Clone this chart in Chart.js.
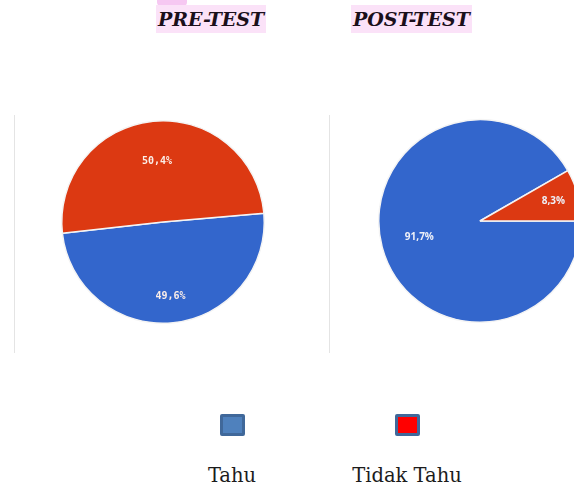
<!DOCTYPE html>
<html>
<head>
<meta charset="utf-8">
<script src="https://cdn.jsdelivr.net/npm/chart.js@4.4.0/dist/chart.umd.min.js"></script>
<style>
  html, body { margin: 0; padding: 0; width: 574px; height: 492px; overflow: hidden; background: #fff; }
  .title { position: absolute; top: 5px; height: 28px; line-height: 28px; background: #fbe2f8;
           font-family: "DejaVu Serif", "Liberation Serif", serif; font-weight: bold; font-style: italic;
           font-size: 19px; color: #1a0f1a; padding: 0 2px; }
  .vline { position: absolute; top: 115px; width: 1px; height: 238px; background: #e4e4e4; }
  .box { position: absolute; top: 414px; width: 19px; height: 16px; border: 3px solid #40689a; border-radius: 2px; }
  .lbl { position: absolute; top: 464px; font-family: "DejaVu Serif", "Liberation Serif", serif;
         font-size: 19.5px; color: #1c1c1c; transform: translateX(-50%); white-space: nowrap; }
  canvas { position: absolute; }
</style>
</head>
<body>
<div style="position:absolute;left:157px;top:0;width:30px;height:6px;background:#f6c8f2;border-radius:0 0 4px 4px;"></div>
<div class="title" id="t0" style="left:156px;"></div>
<div class="title" id="t1" style="left:351px;"></div>
<div class="vline" style="left:14px;"></div>
<div class="vline" style="left:329px;"></div>
<canvas id="pre" width="210" height="210" style="left:58px;top:117px;width:210px;height:210px;"></canvas>
<canvas id="post" width="210" height="210" style="left:375px;top:116px;width:210px;height:210px;"></canvas>
<div id="legend"></div>
<script>
const titles = ["PRE-TEST", "POST-TEST"];
const categories = ["Tahu", "Tidak Tahu"];
const preTest = [49.6, 50.4];
const postTest = [91.7, 8.3];
const sliceColors = ["#3366cc", "#dc3912"];
const legendFill = ["#4f81bd", "#ff0000"];

document.getElementById("t0").innerText = titles[0];
document.getElementById("t1").innerText = titles[1];

// percentage text inside each slice
const sliceLabels = {
  id: 'sliceLabels',
  afterDatasetsDraw(chart, args, opts) {
    const ctx = chart.ctx;
    const meta = chart.getDatasetMeta(0);
    const data = chart.data.datasets[0].data;
    ctx.save();
    ctx.font = opts.font;
    ctx.fillStyle = opts.color;
    ctx.textAlign = 'center';
    ctx.textBaseline = 'middle';
    meta.data.forEach(function(arc, i) {
      const mid = (arc.startAngle + arc.endAngle) / 2;
      const r = arc.outerRadius * opts.pos[i];
      const text = data[i].toFixed(1).replace('.', ',') + '%';
      ctx.fillText(text, arc.x + Math.cos(mid) * r, arc.y + Math.sin(mid) * r);
    });
    ctx.restore();
  }
};

function makePie(id, values, rotation, labelOpts) {
  return new Chart(document.getElementById(id), {
    type: 'pie',
    data: {
      labels: categories,
      datasets: [{
        data: values,
        backgroundColor: sliceColors,
        borderColor: '#f4f4f4',
        borderWidth: 1.5
      }]
    },
    options: {
      responsive: false,
      animation: false,
      rotation: rotation,
      layout: { padding: 3 },
      plugins: {
        legend: { display: false },
        tooltip: { enabled: false },
        sliceLabels: labelOpts
      }
    },
    plugins: [sliceLabels]
  });
}

makePie('pre', preTest, 85, { font: 'bold 10px "DejaVu Sans Mono"', color: '#fbeee8', pos: [0.74, 0.6] });
makePie('post', postTest, 90, { font: 'bold 10px "Open Sans"', color: '#eef0f8', pos: [0.62, 0.75] });

// legend: box above label
const legendX = [232, 407];
const legend = document.getElementById('legend');
categories.forEach(function(name, i) {
  const box = document.createElement('div');
  box.className = 'box';
  box.style.left = (legendX[i] - 12) + 'px';
  box.style.background = legendFill[i];
  legend.appendChild(box);
  const lbl = document.createElement('div');
  lbl.className = 'lbl';
  lbl.style.left = legendX[i] + 'px';
  lbl.innerText = name;
  legend.appendChild(lbl);
});
</script>
</body>
</html>
